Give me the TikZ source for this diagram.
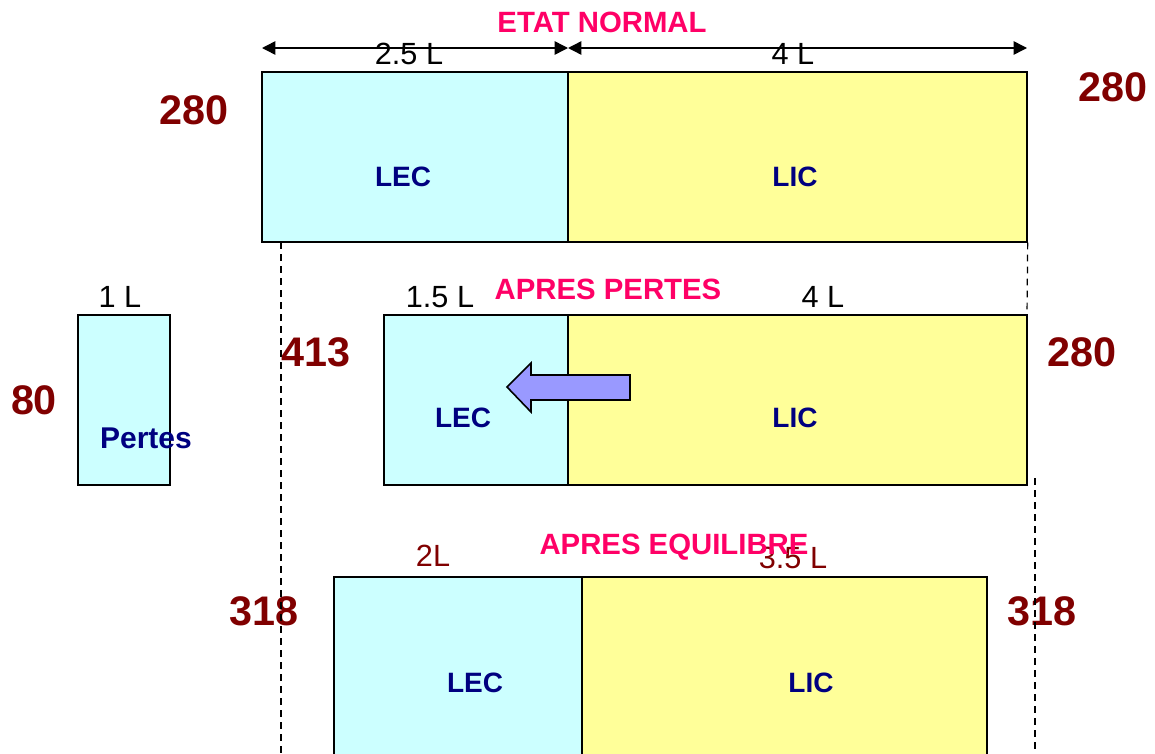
\documentclass[tikz,border=0pt]{standalone}
\usepackage{fontspec}
\setmainfont{Liberation Sans}
\usetikzlibrary{fit,arrows.meta}
\definecolor{cyanf}{HTML}{CCFFFF}
\definecolor{yelf}{HTML}{FFFF99}
\definecolor{pinkt}{HTML}{FF0066}
\definecolor{dred}{HTML}{800000}
\definecolor{navyt}{HTML}{000080}
\definecolor{arrf}{HTML}{9999FF}
\tikzset{
  box/.style={draw=black, line width=1pt, inner sep=0pt},
  lecbox/.style={box, fill=cyanf},
  licbox/.style={box, fill=yelf},
  title/.style={text=pinkt, font=\fontsize{22}{24}\selectfont\bfseries, inner sep=0pt},
  num/.style={text=dred, font=\fontsize{31}{33}\selectfont\bfseries, inner sep=0pt},
  zone/.style={text=navyt, font=\fontsize{21}{23}\selectfont\bfseries, inner sep=0pt},
  dimlbl/.style={text=black, font=\fontsize{23}{25}\selectfont, inner sep=0pt},
  dimarrow/.style={line width=1.1pt, {Triangle[length=10pt,width=10pt]}-{Triangle[length=10pt,width=10pt]}},
  guide/.style={line width=0.9pt, dash pattern=on 5pt off 4pt},
}
\begin{document}
\begin{tikzpicture}[x=0.75pt, y=-0.75pt]
\useasboundingbox (0,0) rectangle (1155,753);
% ---------- row 1 ----------
\node[lecbox, fit={(262,72)(568,242)}] (lec1) {};
\node[licbox, fit={(568,72)(1027,242)}] (lic1) {};
\node[zone] (lec1t) at (403,177) {LEC};
\node[zone] (lic1t) at (795,177) {LIC};
\node[title] (t1) at (602,22) {ETAT NORMAL};
\node[dimlbl] (d1a) at (409,54) {2.5 L};
\node[dimlbl] (d1b) at (793,54) {4 L};
\coordinate (a1) at (262,48);
\coordinate (a2) at (568,48);
\coordinate (a3) at (1027,48);
\draw[dimarrow] (a1) -- (a2);
\draw[dimarrow] (a2) -- (a3);
\node[num] (n1l) at (194,110) {280};
\node[num] (n1r) at (1113,87) {280};
% ---------- row 2 ----------
\node[lecbox, fit={(78,315)(170,485)}] (pertes) {};
\node[lecbox, fit={(384,315)(568,485)}] (lec2) {};
\node[licbox, fit={(568,315)(1027,485)}] (lic2) {};
\node[zone, font=\fontsize{22.5}{24}\selectfont\bfseries] (pertest) at (146,438) {Pertes};
\node[zone] (lec2t) at (463,418) {LEC};
\node[zone] (lic2t) at (795,418) {LIC};
\node[title] (t2) at (608,289) {APRES PERTES};
\node[dimlbl] (d2p) at (120,297) {1 L};
\node[dimlbl] (d2a) at (440,297) {1.5 L};
\node[dimlbl] (d2b) at (823,297) {4 L};
\node[num] (n2p) at (34,400) {80};
\node[num] (n2l) at (316,352) {413};
\node[num] (n2r) at (1082,352) {280};
\draw[line width=1.2pt, fill=arrf, line join=miter]
  (630,375) -- (531,375) -- (531,363) -- (507,387) -- (531,412) -- (531,400) -- (630,400) -- cycle;
% ---------- row 3 ----------
\node[lecbox, fit={(334,577)(582,760)}] (lec3) {};
\node[licbox, fit={(582,577)(987,760)}] (lic3) {};
\node[zone] (lec3t) at (475,683) {LEC};
\node[zone] (lic3t) at (811,683) {LIC};
\node[dimlbl, text=dred] (d3a) at (433,556) {2L};
\node[dimlbl, text=dred] (d3b) at (793,558) {3.5 L};
\node[title] (t3) at (674,547) {APRES EQUILIBRE};
\node[num] (n3l) at (264,611) {318};
\node[num] (n3r) at (1042,611) {318};
% ---------- guides ----------
\coordinate (g1) at (281,242);
\coordinate (g1e) at (281,753);
\coordinate (g2e) at (1027,315);
\coordinate (g3) at (1035,478);
\coordinate (g3e) at (1035,753);
\draw[guide] (g1) -- (g1e);
\draw[guide] (lic1.south east) -- (g2e);
\draw[guide] (g3) -- (g3e);
\end{tikzpicture}
\end{document}
